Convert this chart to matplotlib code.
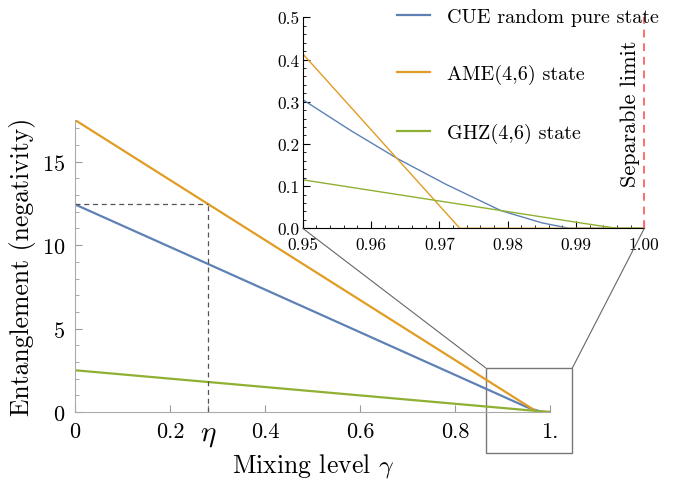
import matplotlib.pyplot as plt
from matplotlib.patches import Rectangle, ConnectionPatch
from matplotlib.ticker import MultipleLocator

plt.rcParams['font.family'] = ['cmr10', 'DejaVu Serif']
plt.rcParams['mathtext.fontset'] = 'cm'
plt.rcParams['axes.formatter.use_mathtext'] = True

# values
cue_g = [0.0, 0.28, 0.95, 0.957, 0.964, 0.971, 0.979, 0.985, 0.989, 1.0]
cue_n = [12.44, 8.87, 0.305, 0.232, 0.164, 0.104, 0.042, 0.013, 0.0, 0.0]
ame_g = [0.0, 0.973, 1.0]
ame_n = [17.5, 0.0, 0.0]
ghz_g = [0.0, 0.992, 0.996, 1.0]
ghz_n = [2.5, 0.0095, 0.0, 0.0]
eta = 0.28
eta_level = 12.46
separable_limit = 1.0

labels = ["CUE random pure state", "AME(4,6) state", "GHZ(4,6) state"]
colors = ["#5E81B5", "#E19C24", "#8FB032"]

main_xticks = [0, 0.2, eta, 0.4, 0.6, 0.8, 1.0]
main_xlabels = ["0", "0.2", r"$\eta$", "0.4", "0.6", "0.8", "1."]
inset_xticks = [0.95, 0.96, 0.97, 0.98, 0.99, 1.00]
inset_yticks = [0.0, 0.1, 0.2, 0.3, 0.4, 0.5]

fig = plt.figure(figsize=(6.76, 4.85), dpi=100)
ax = fig.add_axes([0.111, 0.1485, 0.7027, 0.602])
ins = fig.add_axes([0.4478, 0.5272, 0.5053, 0.435])

series = [(cue_g, cue_n), (ame_g, ame_n), (ghz_g, ghz_n)]
handles = []
for (g, n), c, lab in zip(series, colors, labels):
    h, = ax.plot(g, n, color=c, lw=1.6, label=lab)
    handles.append(h)
    ins.plot(g, n, color=c, lw=1.0)

# eta guide lines
ax.hlines(eta_level, 0, eta, colors="#555555", linestyles=(0, (4, 3)), lw=0.9)
ax.vlines(eta, 0, eta_level, colors="#555555", linestyles=(0, (4, 3)), lw=0.9)

ax.set_xlim(0, 1.0)
ax.set_ylim(0, 17.5)
ax.set_xticks(main_xticks)
ax.set_xticklabels(main_xlabels)
ax.set_yticks([0, 5, 10, 15])
ax.yaxis.set_minor_locator(MultipleLocator(1))
for s in ["top", "right"]:
    ax.spines[s].set_visible(False)
for s in ["left", "bottom"]:
    ax.spines[s].set_color("#aaaaaa")
ax.tick_params(direction="in", which="both", colors="#999999", labelcolor="black",
               labelsize=16, pad=7)
ax.tick_params(which="major", length=5)
ax.tick_params(which="minor", length=3)
for t in ax.get_xticklabels():
    if t.get_text() == r"$\eta$":
        t.set_fontsize(21)
ax.set_xlabel(r"Mixing level $\gamma$", fontsize=18.5, labelpad=2)
ax.set_ylabel("Entanglement (negativity)", fontsize=18.5, labelpad=4)

# zoom box on main plot
box = Rectangle((0.8646, -2.44), 1.047 - 0.8646, 2.64 + 2.44, fill=False,
                ec="#777777", lw=1.0, clip_on=False)
ax.add_patch(box)
for xa, xb in [(0.8646, 0.95), (1.047, 1.0)]:
    con = ConnectionPatch(xyA=(xa, 2.64), coordsA=ax.transData,
                          xyB=(xb, 0.0), coordsB=ins.transData,
                          color="#666666", lw=0.8)
    fig.add_artist(con)

# inset
ins.set_xlim(0.95, 1.0)
ins.set_ylim(0, 0.5)
ins.set_xticks(inset_xticks)
ins.set_xticklabels(["%.2f" % v for v in inset_xticks])
ins.set_yticks(inset_yticks)
ins.set_yticklabels(["%.1f" % v for v in inset_yticks])
ins.xaxis.set_minor_locator(MultipleLocator(0.002))
ins.yaxis.set_minor_locator(MultipleLocator(0.02))
for s in ["top", "right"]:
    ins.spines[s].set_visible(False)
ins.tick_params(direction="in", which="both", labelsize=12.5)
ins.tick_params(axis="x", pad=6)
ins.tick_params(axis="y", pad=2)
ins.tick_params(which="major", length=5)
ins.tick_params(which="minor", length=2.5)
ins.axvline(separable_limit, color="#FF6E6E", lw=1.4, ls=(0, (4, 3)),
            clip_on=False, zorder=5)
ins.text(0.9993, 0.273, "Separable limit", rotation=90, ha="right", va="center",
         fontsize=16)
ins.patch.set_alpha(0)

fig.legend(handles=handles, loc="upper left", bbox_to_anchor=(397 / 676, 1 - 9 / 485),
           frameon=False, fontsize=14.5, handlelength=1.65, handletextpad=0.85,
           labelspacing=1.9, borderpad=0, borderaxespad=0)

fig.savefig("out.png", dpi=100)
